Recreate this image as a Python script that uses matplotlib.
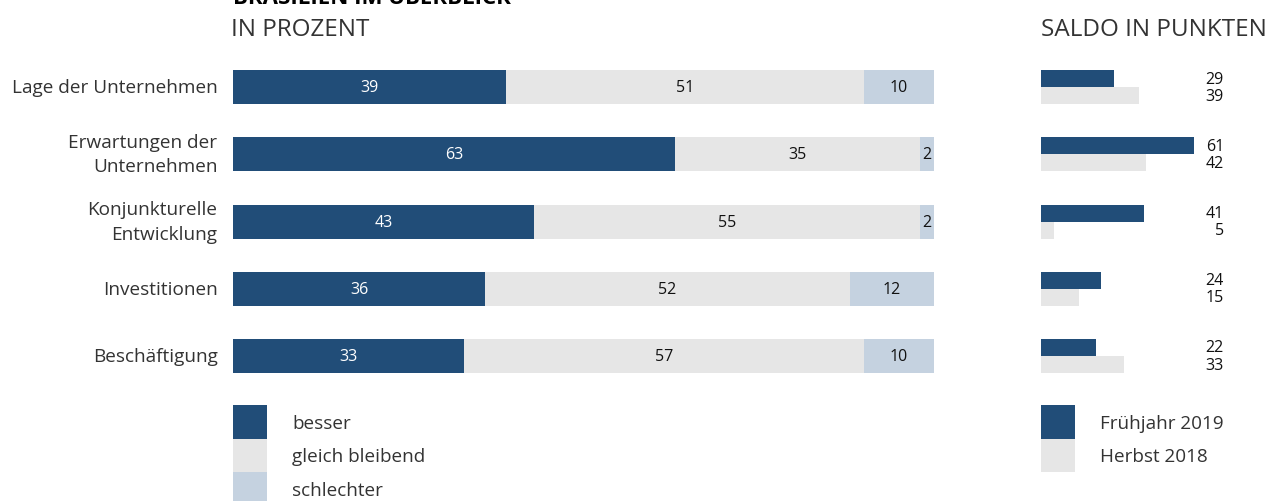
import matplotlib
matplotlib.use("Agg")
import matplotlib.pyplot as plt
from matplotlib.patches import Rectangle

plt.rcParams['font.family'] = ['Open Sans', 'DejaVu Sans']

categories = ["Lage der Unternehmen", "Erwartungen der\nUnternehmen",
              "Konjunkturelle\nEntwicklung", "Investitionen", "Beschäftigung"]
besser = [39, 63, 43, 36, 33]
gleich = [51, 35, 55, 52, 57]
schlechter = [10, 2, 2, 12, 10]
saldo_fj2019 = [29, 61, 41, 24, 22]
saldo_hb2018 = [39, 42, 5, 15, 33]

dark = "#214d78"
grey = "#e6e6e6"
light = "#c5d2e0"
txt = "#333333"

W, H = 1275, 502
fig = plt.figure(figsize=(W / 100, H / 100), dpi=100)

# vertical layout: row 0 at y=88px, row 4 at y=357px
row_gap = (357 - 88) / 4
top_px = 88 - row_gap / 2
bot_px = 357 + row_gap / 2
ax_b = 1 - bot_px / H
ax_h = (bot_px - top_px) / H

ax = fig.add_axes([233 / W, ax_b, 701 / W, ax_h])
ys = list(range(len(categories)))
bh = 34 / row_gap
ax.barh(ys, besser, height=bh, color=dark)
ax.barh(ys, gleich, left=besser, height=bh, color=grey)
left2 = [b + g for b, g in zip(besser, gleich)]
ax.barh(ys, schlechter, left=left2, height=bh, color=light)
for i in ys:
    ax.text(besser[i] / 2, i, str(besser[i]), ha='center', va='center',
            color='white', fontsize=11.5)
    ax.text(besser[i] + gleich[i] / 2, i, str(gleich[i]), ha='center', va='center',
            color='#111111', fontsize=11.5)
    ax.text(left2[i] + schlechter[i] / 2, i, str(schlechter[i]), ha='center', va='center',
            color='#111111', fontsize=11.5)
    ax.text(-2.2, i, categories[i], ha='right', va='center', color=txt,
            fontsize=13.7, linespacing=1.45)
ax.set_xlim(0, 100)
ax.set_ylim(len(categories) - 0.5, -0.5)
ax.axis('off')

# saldo panel
scale = 2.51  # px per point
ax2 = fig.add_axes([1041 / W, ax_b, 75 * scale / W, ax_h])
hh = 17 / row_gap
ax2.barh([y - hh / 2 for y in ys], saldo_fj2019, height=hh, color=dark)
ax2.barh([y + hh / 2 for y in ys], saldo_hb2018, height=hh, color=grey)
for i in ys:
    ax2.text((1224 - 1041) / scale, i - hh / 2, str(saldo_fj2019[i]), ha='right',
             va='center', color='#111111', fontsize=11.5, clip_on=False)
    ax2.text((1224 - 1041) / scale, i + hh / 2, str(saldo_hb2018[i]), ha='right',
             va='center', color='#111111', fontsize=11.5, clip_on=False)
ax2.set_xlim(0, 75)
ax2.set_ylim(len(categories) - 0.5, -0.5)
ax2.axis('off')

# titles
fig.text(233 / W, 1 - 4 / H, "BRASILIEN IM ÜBERBLICK", ha='left', va='baseline',
         fontsize=16, fontweight='bold', color='black')
fig.text(231 / W, 1 - 30 / H, "IN PROZENT", ha='left', va='center',
         fontsize=17.5, color=txt)
fig.text(1041 / W, 1 - 30 / H, "SALDO IN PUNKTEN", ha='left', va='center',
         fontsize=17.5, color=txt)

# legends
def legend(x, labels, colors, y0=406, step=33.5, size=34):
    for k, (lab, col) in enumerate(zip(labels, colors)):
        yt = y0 + k * step
        fig.add_artist(Rectangle((x / W, 1 - (yt + step) / H), size / W, step / H,
                                 transform=fig.transFigure, color=col, lw=0))
        fig.text((x + 59) / W, 1 - (yt + step / 2 + 1) / H, lab, ha='left', va='center',
                 fontsize=13.6, color=txt)

legend(233, ["besser", "gleich bleibend", "schlechter"], [dark, grey, light])
legend(1041, ["Frühjahr 2019", "Herbst 2018"], [dark, grey])

fig.savefig("out.png", dpi=100)
